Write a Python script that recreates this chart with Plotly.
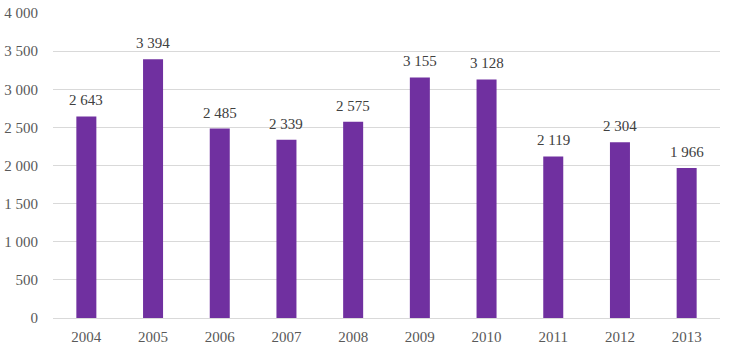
import plotly.graph_objects as go

years = ["2004", "2005", "2006", "2007", "2008", "2009", "2010", "2011", "2012", "2013"]
values = [2643, 3394, 2485, 2339, 2575, 3155, 3128, 2119, 2304, 1966]
y_ticks = [0, 500, 1000, 1500, 2000, 2500, 3000, 3500, 4000]

font_family = "Liberation Serif, DejaVu Serif, serif"

fig = go.Figure(go.Bar(
    x=years, y=values,
    marker=dict(color="#7030A0", line=dict(width=0)),
    width=0.3,
    cliponaxis=False,
))

# labels placed on the category axis by category index
for i, v in enumerate(values):
    fig.add_annotation(
        x=i, y=v, xref="x", yref="y", text=f"{v:,}".replace(",", " "),
        showarrow=False, yanchor="bottom", yshift=6,
        font=dict(size=15, color="#404040", family=font_family),
    )

fig.update_layout(
    width=735, height=353,
    margin=dict(l=53, r=15, t=13, b=35, autoexpand=False),
    plot_bgcolor="white", paper_bgcolor="white",
    separators=", ",
    showlegend=False,
    font=dict(family=font_family, size=14, color="#595959"),
    bargap=0.7,
)
fig.update_xaxes(type="category", range=[-0.5, len(years) - 0.5],
                 showgrid=False, showline=True, linecolor="#D9D9D9", linewidth=1,
                 ticks="", tickfont=dict(size=15, color="#595959"), ticklabelstandoff=5)
fig.update_yaxes(range=[0, 4000], tickvals=y_ticks, tickformat=",", showgrid=True,
                 gridcolor="#D9D9D9", gridwidth=1, zeroline=False, showline=False,
                 ticks="", tickfont=dict(size=15, color="#595959"), ticklabelstandoff=14)

fig.write_html("out.html")
